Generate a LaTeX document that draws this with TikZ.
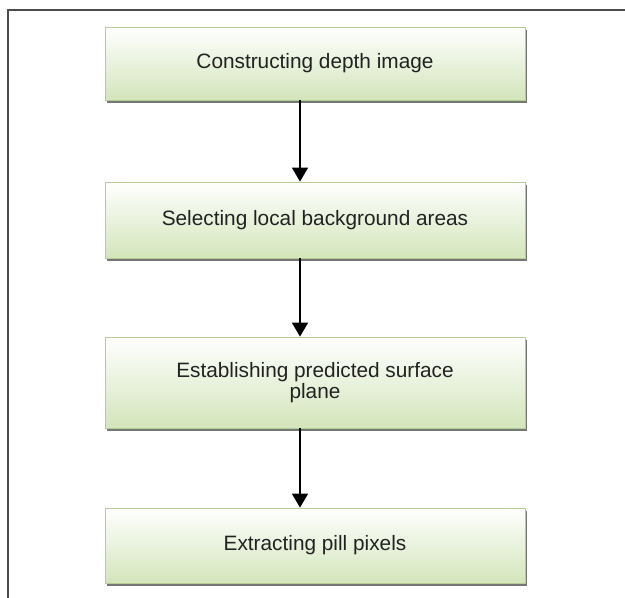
\documentclass[tikz,border=0pt]{standalone}
\usepackage{fontspec}
\setmainfont{Liberation Sans}
\usetikzlibrary{arrows.meta,shadows}

\definecolor{boxgreen}{HTML}{D3E5BA}
\definecolor{boxedge}{HTML}{B5CD94}
\definecolor{textgray}{HTML}{222222}

\tikzset{
  procbox/.style={draw=boxedge, line width=0.8pt, top color=white, bottom color=boxgreen,
    minimum width=420pt, text=textgray, align=center,
    font=\fontsize{20.8}{19}\selectfont,
    drop shadow={shadow xshift=1.5pt, shadow yshift=-2.5pt, fill=black!60, opacity=0.9}},
  flowarrow/.style={line width=1.7pt, -{Triangle[length=14pt,width=16pt]}}
}

\begin{document}
\begin{tikzpicture}[x=1pt,y=-1pt]
				\useasboundingbox (0,0) rectangle (625,598);
				% Frame
				\draw[black!70, line width=1.3pt] (8,598) -- (8,10) -- (625,10);
				% Steps
				\node[procbox, minimum height=73pt] (depth) at (315,63.5) {Constructing depth image};
				\node[procbox, minimum height=76pt] (background) at (315,220) {Selecting local background areas};
				\node[procbox, minimum height=91pt] (plane) at (315,382.5) {Establishing predicted surface\\plane};
				\node[procbox, minimum height=75pt] (pixels) at (315,545.5) {Extracting pill pixels};
				% Arrows
				\draw[flowarrow] ([xshift=-15pt]depth.south) -- ([xshift=-15pt]background.north);
				\draw[flowarrow] ([xshift=-15pt]background.south) -- ([xshift=-15pt]plane.north);
				\draw[flowarrow] ([xshift=-15pt]plane.south) -- ([xshift=-15pt]pixels.north);
\end{tikzpicture}
\end{document}
